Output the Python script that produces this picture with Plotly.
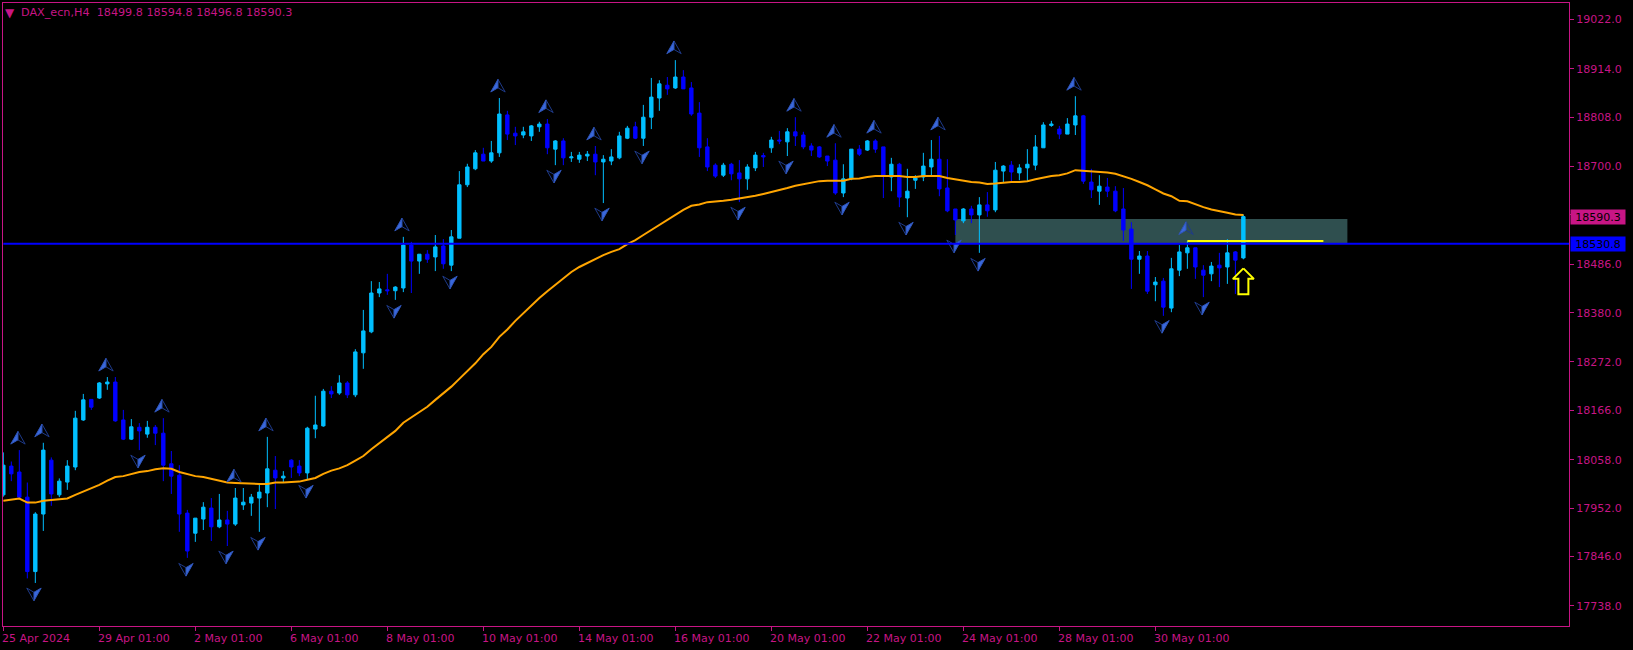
import plotly.graph_objects as go

bars = list(range(156))

opens = [17981,18044,18031,17976,17813,17939,18057,17981,18009,18042,
18145,18190,18193,18224,18228,18145,18103,18129,18114,18129,
18116,18049,18024,17941,17897,17928,17952,17911,17926,17917,
17959,17963,17974,17985,18035,18018,18057,18044,18029,18125,
18132,18208,18204,18226,18200,18292,18338,18423,18430,18428,
18434,18528,18493,18508,18502,18526,18484,18543,18660,18695,
18727,18712,18730,18813,18773,18769,18767,18787,18793,18738,
18756,18719,18716,18723,18727,18710,18712,18719,18762,18787,
18762,18808,18850,18878,18872,18896,18872,18817,18743,18703,
18681,18705,18686,18673,18697,18724,18741,18758,18754,18776,
18769,18745,18743,18723,18714,18642,18673,18738,18736,18756,
18743,18677,18705,18631,18670,18677,18699,18716,18653,18607,
18581,18607,18594,18616,18605,18690,18703,18686,18697,18703,
18741,18790,18782,18771,18791,18811,18666,18646,18655,18646,
18607,18563,18497,18504,18441,18449,18390,18473,18511,18522,
18473,18465,18484,18480,18513,18499.8]

highs = [18074,18054,18079,18008,17943,18095,18063,18017,18057,18165,
18202,18190,18228,18239,18239,18167,18147,18138,18143,18134,
18149,18077,18046,17948,17930,17965,17974,17983,17946,17996,
17996,17983,18003,18108,18066,18033,18059,18057,18130,18198,
18213,18219,18243,18230,18300,18386,18449,18447,18465,18438,
18546,18535,18508,18517,18550,18541,18561,18690,18706,18736,
18741,18756,18850,18822,18787,18787,18791,18798,18804,18758,
18762,18732,18732,18734,18745,18725,18738,18776,18789,18798,
18835,18894,18889,18896,18933,18911,18885,18841,18762,18707,
18708,18708,18714,18705,18732,18730,18765,18778,18784,18808,
18776,18751,18745,18723,18751,18705,18738,18747,18758,18760,
18743,18719,18708,18695,18681,18730,18758,18767,18716,18607,
18609,18614,18633,18644,18710,18703,18712,18705,18738,18769,
18797,18800,18789,18806,18854,18813,18695,18681,18675,18657,
18653,18578,18515,18515,18458,18456,18500,18528,18537,18522,
18484,18491,18511,18541,18515,18594.8]

lows = [17977,18011,17973,17798,17788,17902,17957,17976,17992,18035,
18143,18167,18191,18211,18141,18101,18101,18079,18106,18090,
18011,17983,17900,17843,17878,17904,17880,17908,17869,17913,
17948,17935,17900,17954,17950,18007,18018,18022,18014,18105,
18130,18193,18200,18193,18195,18257,18335,18414,18419,18408,
18425,18423,18465,18489,18471,18476,18471,18543,18655,18692,
18712,18708,18721,18758,18747,18762,18756,18776,18727,18703,
18703,18710,18708,18712,18681,18620,18703,18716,18760,18760,
18745,18782,18822,18857,18870,18870,18811,18721,18690,18675,
18677,18670,18622,18649,18690,18699,18730,18749,18723,18745,
18738,18723,18719,18701,18638,18633,18670,18723,18734,18730,
18631,18646,18611,18589,18651,18668,18681,18635,18600,18550,
18576,18576,18511,18590,18600,18666,18666,18670,18668,18692,
18741,18787,18760,18771,18769,18662,18631,18616,18633,18600,
18537,18432,18465,18421,18405,18373,18381,18460,18476,18454,
18414,18449,18436,18443,18421,18496.8]

closes = [18046,18027,17976,17813,17939,18079,17983,18011,18044,18149,
18189,18173,18226,18228,18143,18103,18130,18121,18129,18116,
18046,18022,17939,17858,17930,17954,17911,17926,17917,17974,
17965,17976,17987,18038,18018,18022,18042,18029,18127,18134,
18208,18202,18226,18200,18294,18340,18423,18432,18428,18436,
18528,18493,18508,18497,18524,18487,18546,18660,18699,18730,
18712,18730,18815,18771,18767,18776,18789,18793,18741,18756,
18719,18721,18725,18727,18710,18716,18721,18767,18784,18762,
18808,18852,18881,18870,18896,18870,18815,18741,18699,18679,
18703,18684,18673,18699,18725,18721,18758,18756,18776,18767,
18743,18736,18721,18712,18642,18673,18738,18727,18756,18738,
18679,18705,18633,18646,18675,18701,18716,18651,18603,18583,
18607,18594,18616,18603,18692,18701,18688,18697,18705,18743,
18791,18793,18771,18793,18811,18668,18649,18657,18646,18603,
18561,18497,18504,18427,18447,18392,18476,18513,18522,18480,
18462,18482,18478,18511,18495,18590.3]

moving_average = [17968,17970,17973,17964,17964,17968,17970,17971,17973,17981,
17988,17995,18003,18012,18020,18022,18027,18031,18033,18037,
18039,18038,18031,18026,18022,18020,18016,18013,18008,18007,
18006,18005,18005,18005,18008,18008,18009,18010,18014,18018,
18027,18034,18039,18046,18056,18066,18081,18094,18107,18121,
18139,18151,18162,18174,18189,18203,18218,18235,18251,18269,
18289,18305,18327,18343,18362,18379,18397,18412,18427,18441,
18456,18469,18480,18489,18497,18506,18513,18519,18530,18539,
18550,18561,18572,18583,18594,18605,18614,18617,18622,18623,
18625,18627,18630,18632,18636,18640,18644,18649,18653,18658,
18661,18665,18668,18669,18669,18669,18673,18674,18677,18679,
18679,18679,18679,18677,18677,18679,18679,18679,18675,18672,
18670,18666,18665,18662,18663,18665,18666,18666,18668,18672,
18676,18679,18681,18685,18692,18691,18690,18688,18687,18684,
18679,18673,18666,18659,18650,18641,18635,18625,18624,18617,
18611,18606,18603,18599,18595,18594]

up_bars = [2,5,13,20,29,33,50,62,68,74,84,99,104,109,117,134,148]
up_prices = [18120,18136,18280,18190,18037,18149,18587,18891,18846,18786,18975,18849,18792,18801,18808,18895,18579]
down_bars = [4,17,23,28,32,38,49,56,69,75,80,92,98,105,113,119,122,145,150]
down_prices = [17749,18040,17803,17830,17860,17974,18368,18432,18664,18581,18706,18583,18684,18594,18550,18511,18471,18335,18375]

signal_bar = [155]
signal_price = [18477]

level_bar = [148, 165]
level_price = [18537, 18537]
zone_bars = [119, 168]
zone_prices = [18530.8, 18585]
bid_price = 18530.8
last_price = 18590.3

price_ticks = [19022,18914,18808,18700,18594,18486,18380,18272,18166,18058,17952,17846,17738]
price_labels = ["19022.0","18914.0","18808.0","18700.0","","18486.0","18380.0","18272.0","18166.0","18058.0","17952.0","17846.0","17738.0"]
date_ticks = [0,12,24,36,48,60,72,84,96,108,120,132,144]
date_labels = ["25 Apr 2024","29 Apr 01:00","2 May 01:00","6 May 01:00","8 May 01:00","10 May 01:00","14 May 01:00","16 May 01:00","20 May 01:00","22 May 01:00","24 May 01:00","28 May 01:00","30 May 01:00"]
header = "DAX_ecn,H4  18499.8 18594.8 18496.8 18590.3"

ACCENT = "#C71585"
FONT = "DejaVu Sans"
BULL = "#00BFFF"
BEAR = "#0000FF"
PX_X = 1 / 8       # bars per pixel
PX_Y = 2.19        # price per pixel


def kite_parts(xs, ys, sign):
    """Build bright half and dark outline half of fractal arrows, sign=+1 up, -1 down."""
    bx, by, dx_, dy_ = [], [], [], []
    w, h, n = 7.2 * PX_X, 12.7 * PX_Y, 8.5 * PX_Y
    for i, p in zip(xs, ys):
        c = i - 0.17
        bx += [c, c - sign * w, c, c, None]
        by += [p, p - sign * h, p - sign * n, p, None]
        dx_ += [c, c + sign * w, c, None]
        dy_ += [p, p - sign * h, p - sign * n, None]
    return bx, by, dx_, dy_


def signal_outline(i, p):
    w, sw, hh, t = 10.5 * PX_X, 5 * PX_X, 10.5 * PX_Y, 26 * PX_Y
    return ([i, i + w, i + sw, i + sw, i - sw, i - sw, i - w, i],
            [p, p - hh, p - hh, p - t, p - t, p - hh, p - hh, p])


fig = go.Figure()

fig.add_trace(go.Candlestick(
    x=bars, open=opens, high=highs, low=lows, close=closes,
    increasing=dict(line=dict(color=BULL, width=1), fillcolor=BULL),
    decreasing=dict(line=dict(color=BEAR, width=1), fillcolor=BEAR),
    whiskerwidth=0, hoverinfo="skip", showlegend=False))

fig.add_trace(go.Scatter(x=bars, y=moving_average, mode="lines",
                         line=dict(color="#FFA500", width=2), hoverinfo="skip", showlegend=False))

for xs, ys, sign in ((up_bars, up_prices, 1), (down_bars, down_prices, -1)):
    bx, by, ox, oy = kite_parts(xs, ys, sign)
    fig.add_trace(go.Scatter(x=ox, y=oy, mode="lines", line=dict(color="#1E3A8A", width=1),
                             hoverinfo="skip", showlegend=False))
    fig.add_trace(go.Scatter(x=bx, y=by, mode="lines", fill="toself", fillcolor="#3A68DC",
                             line=dict(color="#2F55B8", width=1), hoverinfo="skip", showlegend=False))

fig.add_trace(go.Scatter(x=[bars[0], bars[-1] + 41], y=[bid_price, bid_price], mode="lines",
                         line=dict(color=BEAR, width=2), hoverinfo="skip", showlegend=False))
fig.add_trace(go.Scatter(x=level_bar, y=level_price, mode="lines",
                         line=dict(color="#FFFF00", width=2), hoverinfo="skip", showlegend=False))

sx, sy = signal_outline(signal_bar[0], signal_price[0])
fig.add_trace(go.Scatter(x=sx, y=sy, mode="lines", fill="toself", fillcolor="#000000",
                         line=dict(color="#FFFF00", width=2), hoverinfo="skip", showlegend=False))

annotations = []
for t, lab in zip(date_ticks, date_labels):
    annotations.append(dict(x=t, xref="x", y=0, yref="paper", yanchor="top", xanchor="left",
                            text=lab, showarrow=False, xshift=-3, yshift=-4,
                            font=dict(family=FONT, size=11, color=ACCENT)))
annotations.append(dict(x=0, xref="paper", y=1, yref="paper", xanchor="left", yanchor="top",
                        xshift=16, yshift=-1, text=header.replace("  ", "\u00a0\u00a0"), showarrow=False,
                        font=dict(family=FONT, size=11.2, color=ACCENT)))
annotations.append(dict(x=0, xref="paper", y=1, yref="paper", xanchor="left", yanchor="top",
                        xshift=0, yshift=-1, text="▼", showarrow=False,
                        font=dict(family=FONT, size=12, color=ACCENT)))
for p, bg in ((last_price, ACCENT), (bid_price, BEAR)):
    annotations.append(dict(x=1, xref="paper", y=p, yref="y", xanchor="left", yanchor="middle",
                            xshift=1, text=f"{p:.1f}", showarrow=False, bgcolor=bg, width=54, height=14,
                            borderpad=0, font=dict(family=FONT, size=11, color="#000000")))

fig.update_layout(
    width=1633, height=650, autosize=False,
    margin=dict(l=3, r=64, t=3, b=24, pad=0),
    paper_bgcolor="#000000", plot_bgcolor="#000000",
    showlegend=False, boxgap=0.4, hovermode=False,
    annotations=annotations,
    shapes=[dict(type="rect", xref="x", yref="y", x0=zone_bars[0], x1=zone_bars[1],
                 y0=zone_prices[0], y1=zone_prices[1], fillcolor="#2F4F4F",
                 line=dict(width=0), layer="below")],
    xaxis=dict(range=[-0.04, 195.7], showgrid=False, zeroline=False, rangeslider=dict(visible=False),
               tickmode="array", tickvals=date_ticks, ticktext=[""] * len(date_ticks),
               ticks="outside", ticklen=4, tickcolor=ACCENT, tickwidth=1,
               showline=True, linecolor=ACCENT, linewidth=1, mirror=True),
    yaxis=dict(range=[17693.8, 19058.1], side="right", showgrid=False, zeroline=False,
               tickmode="array", tickvals=price_ticks, ticktext=price_labels,
               ticks="outside", ticklen=4, tickcolor=ACCENT, tickwidth=1,
               tickfont=dict(family=FONT, size=11, color=ACCENT),
               showline=True, linecolor=ACCENT, linewidth=1, mirror=True),
    font=dict(family=FONT, size=11, color=ACCENT),
)

fig.write_html("out.html", config=dict(displayModeBar=False),
               post_script="document.body.style.margin='0';document.body.style.background='#000';document.body.style.overflow='hidden';")
